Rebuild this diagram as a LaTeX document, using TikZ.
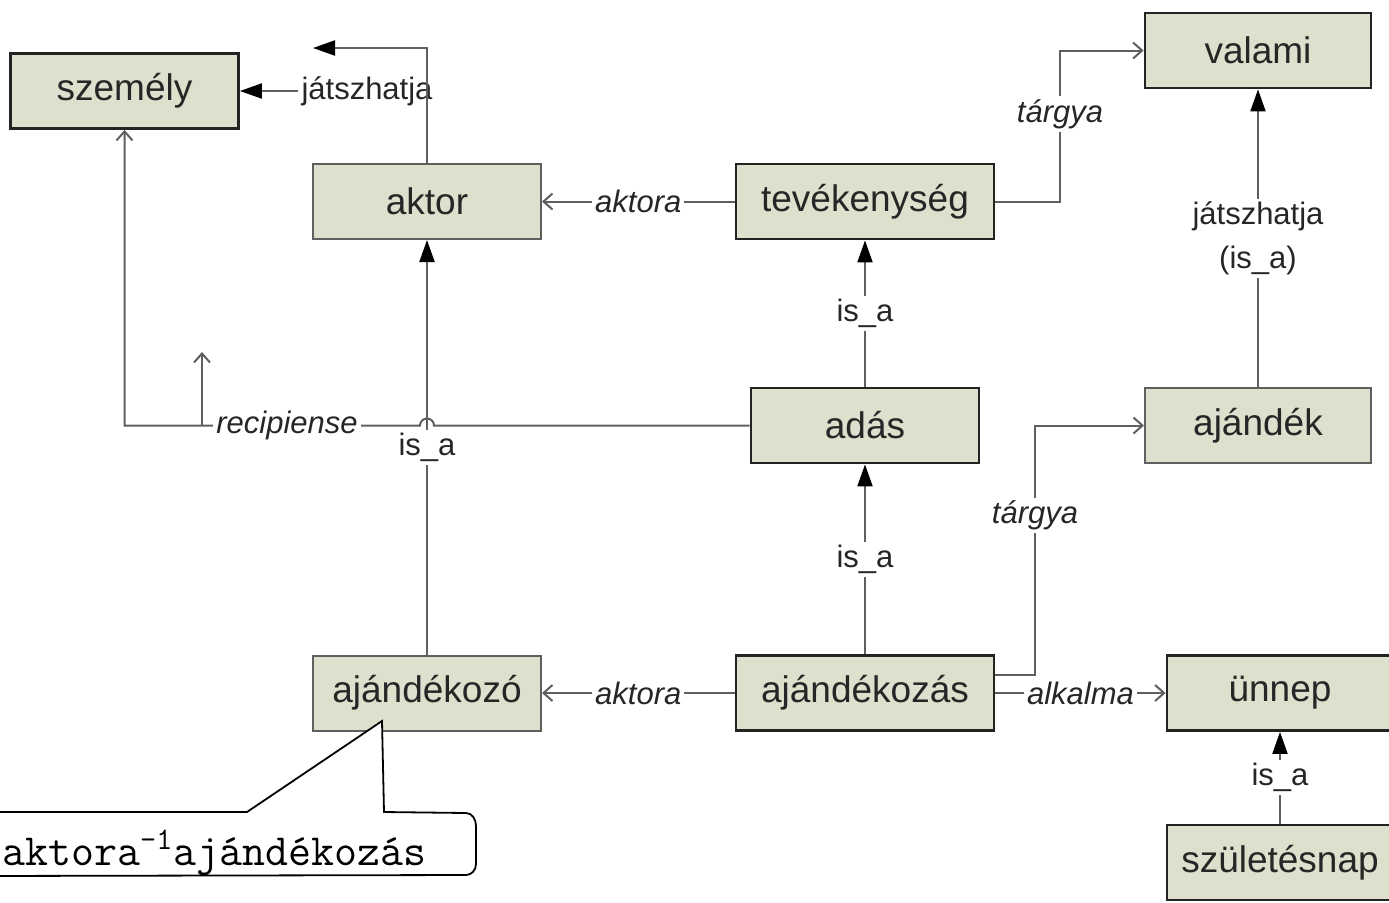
\documentclass[tikz,border=0pt]{standalone}
\usepackage{fontspec}
\setmainfont{Liberation Sans}
\usetikzlibrary{arrows.meta}

\definecolor{boxfill}{RGB}{221,224,204}
\definecolor{boxdark}{RGB}{35,35,35}
\definecolor{linegray}{RGB}{95,95,95}

\begin{document}
\begin{tikzpicture}[x=0.5pt,y=-0.5pt,
      every node/.style={font=\fontsize{18.5}{22}\selectfont, text=black!85},
      concept/.style={draw=boxdark, line width=1.4pt, fill=boxfill,
        minimum width=114pt, minimum height=37.5pt, inner sep=0pt},
      conceptlight/.style={concept, draw=linegray, line width=1pt},
      conn/.style={draw=linegray, line width=1pt},
      isarrow/.style={conn, -{Triangle[length=11pt,width=7.5pt,black]}},
      relarrow/.style={conn, -{Straight Barb[length=4.5pt,width=8pt]}},
      lbl/.style={fill=white, inner sep=1.5pt, font=\fontsize{15.5}{22}\selectfont},
      rel/.style={lbl, font=\fontsize{15.5}{22}\selectfont\itshape}]
    \useasboundingbox (0,0) rectangle (1389,902);

    % concepts
    \node[concept] (szemely) at (124.5,91) {személy};
    \node[conceptlight] (aktor) at (427,201.5) {aktor};
    \node[concept, minimum width=129pt] (tevekenyseg) at (865,201.5) {tevékenység};
    \node[concept, minimum width=113pt] (valami) at (1258,50.5) {valami};
    \node[concept] (adas) at (865,425.5) {adás};
    \node[conceptlight, minimum width=113pt] (ajandek) at (1258,425.5) {ajándék};
    \node[conceptlight] (ajandekozo) at (427,693) {ajándékozó};
    \node[concept, minimum width=129pt] (ajandekozas) at (865,693) {ajándékozás};
    \node[concept, minimum width=113pt] (unnep) at (1280,693) {ünnep};
    \node[concept, minimum width=113pt] (szuletesnap) at (1280,862.5) {születésnap};

    % is_a links
    \draw[isarrow] (adas) -- node[lbl]{is\_a} (tevekenyseg);
    \draw[isarrow] (ajandekozas) -- node[lbl]{is\_a} (adas);
    \draw[isarrow] (szuletesnap) -- node[lbl]{is\_a} (unnep);
    \draw[isarrow] (ajandekozo) -- node[lbl]{is\_a} (aktor);
    \draw[isarrow] (ajandek) -- node[lbl, align=center]{játszhatja\\(is\_a)} (valami);

    % role links
    \draw[relarrow] (tevekenyseg) -- node[rel]{aktora} (aktor);
    \draw[relarrow] (ajandekozas) -- node[rel]{aktora} (ajandekozo);
    \draw[relarrow] (ajandekozas) -- node[rel]{alkalma} (unnep);
    \draw[relarrow] (tevekenyseg.east) -- (1060,201.5)
      -- node[rel, pos=0.58]{tárgya} (1060,50.5) -- (valami.west);
    \draw[relarrow] ([yshift=9pt]ajandekozas.east) -- (1035,675)
      -- node[rel, pos=0.64]{tárgya} (1035,425.5) -- (ajandek.west);

    % recipiense, hopping over the is_a line
    \coordinate (recfoot) at (202,425.5);
    \coordinate (rectip) at (202,352);
    \draw[relarrow] (adas.west) -- (434,425.5) arc[start angle=0, end angle=-180, radius=7]
      -- node[rel, pos=0.45]{recipiense} (124.5,425.5) -- (szemely.south);
    \draw[relarrow] (recfoot) -- (rectip);

    % jatszhatja
    \node[lbl, fill=none] (jatsz) at (367,91) {játszhatja};
    \draw[isarrow] (jatsz.west) -- (szemely.east);
    \coordinate (aktorup) at (313,48);
    \draw[isarrow] (aktor.north) |- (aktorup);

    % callout
    \coordinate (calltip) at (382,721);
    \draw[line width=0.9pt, fill=white] (-20,812) -- (247,812) -- (calltip) -- (384,812)
      -- (466,813) to[out=0, in=90] (476,826) -- (476,864) to[out=-90, in=0] (466,875) -- (-20,876);
    \node[font=\ttfamily\fontsize{22.3}{24}\selectfont, text=black, anchor=base west,
      inner sep=0pt] (callouttext) at (2,865) {aktora\textsuperscript{-1}ajándékozás};
\end{tikzpicture}
\end{document}
